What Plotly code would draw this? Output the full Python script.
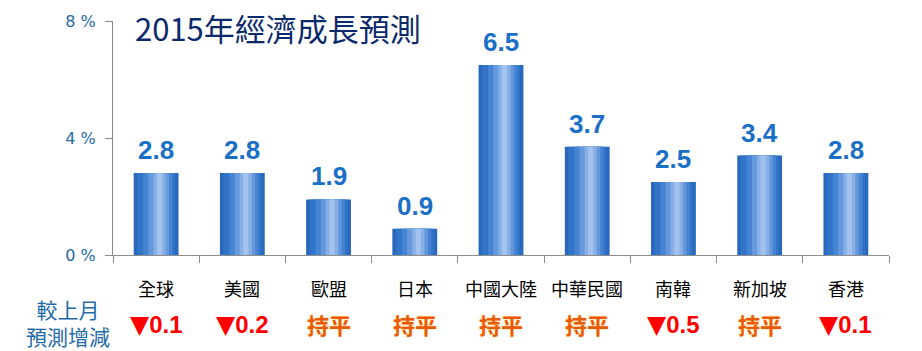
import plotly.graph_objects as go

categories = ["全球", "美國", "歐盟", "日本", "中國大陸", "中華民國", "南韓", "新加坡", "香港"]
growth = [2.8, 2.8, 1.9, 0.9, 6.5, 3.7, 2.5, 3.4, 2.8]
changes = ["▼0.1", "▼0.2", "持平", "持平", "持平", "持平", "▼0.5", "持平", "▼0.1"]
y_ticks = [0, 4, 8]
y_tick_labels = ["0 %", "4 %", "8 %"]
title_text = "2015年經濟成長預測"
row_label = "較上月<br>預測增減"

fig = go.Figure()

# cylinder-like shading by overlaying bars of decreasing width
layers = [
    (0.52, "#2a68bd", 0.0),
    (0.44, "#3174c8", 0.0),
    (0.34, "#4584d2", 0.02),
    (0.24, "#6699dc", 0.03),
    (0.14, "#86b0e6", 0.04),
    (0.06, "#a3c3ee", 0.04),
]
for w, c, off in layers:
    fig.add_trace(go.Bar(
        x=categories, y=growth, width=w, offset=-w / 2 + off,
        marker=dict(color=c, line=dict(width=0)),
        hoverinfo="skip", showlegend=False,
    ))

annotations = []
for cat, v in zip(categories, growth):
    annotations.append(dict(
        x=cat, y=v, xref="x", yref="y", text=f"{v:.1f}", showarrow=False,
        yanchor="bottom", yshift=6,
        font=dict(family="Liberation Sans, Arial", size=26, color="#1a6fc6", weight="bold"),
    ))
    annotations.append(dict(
        x=cat, y=0, xref="x", yref="y", text=cat, showarrow=False,
        yanchor="middle", yshift=-33,
        font=dict(family="Noto Sans CJK TC", size=18, color="#000000"),
    ))
for cat, ch in zip(categories, changes):
    if ch.startswith("▼"):
        text = ('<span style="font-family:DejaVu Sans;font-size:25px">▼</span>'
                + ch[1:])
        font = dict(family="Liberation Sans, Arial", size=24, color="#ff0000", weight="bold")
    else:
        text = ch
        font = dict(family="Noto Sans CJK TC", size=22, color="#ea5a06", weight="bold",
                    shadow="0px 0px 2px #ffd27a")
    annotations.append(dict(
        x=cat, y=0, xref="x", yref="y", text=text, showarrow=False,
        yanchor="middle", yshift=-69, font=font,
    ))

annotations.append(dict(
    x=-0.058, y=0, xref="paper", yref="y", text=row_label, showarrow=False,
    xanchor="center", yanchor="middle", yshift=-67, align="center",
    font=dict(family="Noto Sans CJK TC", size=21, color="#1f6aa8"),
))
annotations.append(dict(
    x=0.026, y=1.0, xref="paper", yref="paper", text=title_text, showarrow=False,
    xanchor="left", yanchor="middle", yshift=-6,
    font=dict(family="Noto Sans CJK TC", size=31, color="#0b2a6b"),
))

fig.update_layout(
    width=922, height=351,
    margin=dict(l=113, r=33, t=16, b=96),
    paper_bgcolor="white", plot_bgcolor="white",
    barmode="overlay", bargap=0.48,
    annotations=annotations,
    xaxis=dict(
        showline=True, linecolor="#8c8c8c", linewidth=1,
        ticks="outside", tickson="boundaries", ticklen=7, tickcolor="#8c8c8c",
        showticklabels=False, showgrid=False, zeroline=False,
    ),
    yaxis=dict(
        range=[0, 8], tickvals=y_ticks, ticktext=y_tick_labels,
        showline=True, linecolor="#8c8c8c", linewidth=1,
        ticks="outside", ticklen=7, tickcolor="#8c8c8c",
        tickfont=dict(family="DejaVu Sans", size=16, color="#1f6aa8"),
        ticklabelstandoff=6,
        showgrid=False, zeroline=False,
    ),
)

fig.write_html("out.html")
